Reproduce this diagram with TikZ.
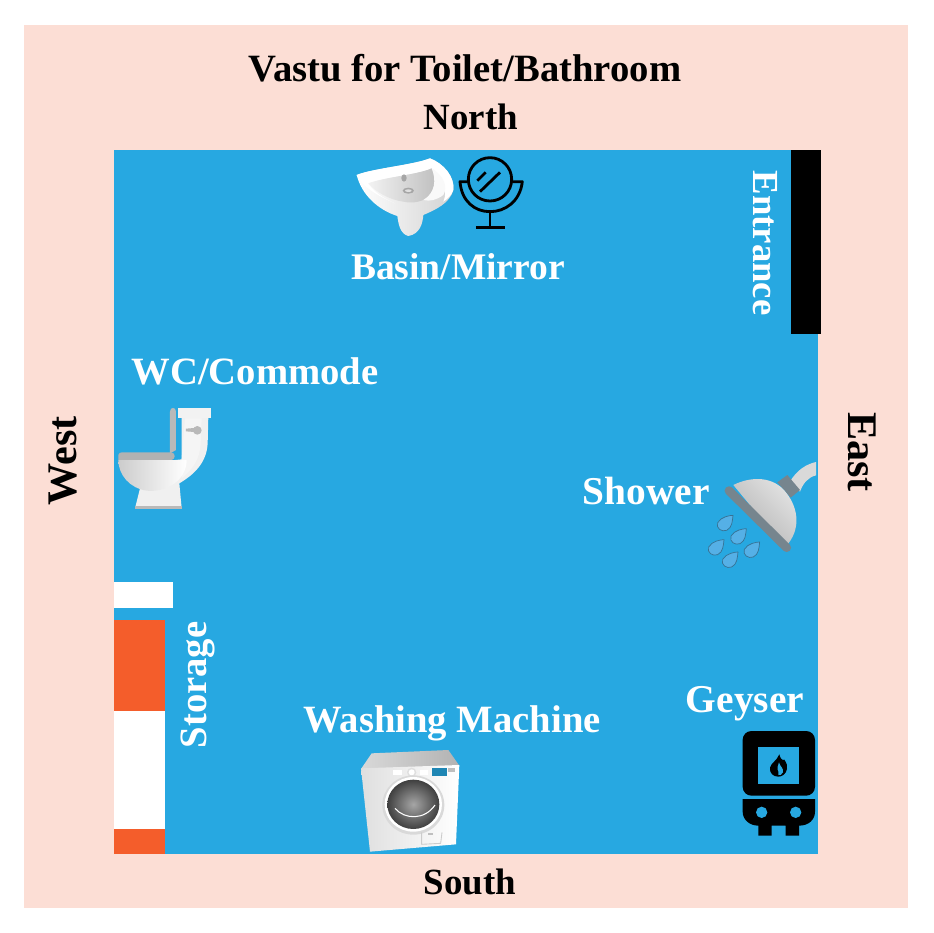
\documentclass[tikz,border=0pt]{standalone}
\usepackage{fontspec}
\setmainfont{Liberation Serif}
\usetikzlibrary{positioning, calc}
\definecolor{wallpink}{HTML}{FCDED5}
\definecolor{floorblue}{HTML}{27A8E1}
\definecolor{shelforange}{HTML}{F45D2B}
\definecolor{steeldark}{HTML}{76858E}
\definecolor{dropblue}{HTML}{55B0E6}

\begin{document}
\begin{tikzpicture}[x=0.02cm, y=-0.02cm, line join=round]

		% Define styles
		\tikzstyle{bigtext} = [font=\fontsize{22}{24}\selectfont\bfseries, text=black, inner sep=0pt]
		\tikzstyle{sidetext} = [font=\fontsize{21}{24}\selectfont\bfseries, text=black, inner sep=0pt]
		\tikzstyle{compasstext} = [font=\fontsize{24}{26}\selectfont\bfseries, text=black, inner sep=0pt]
		\tikzstyle{roomtext} = [font=\fontsize{22}{24}\selectfont\bfseries, text=white, inner sep=0pt]
		\tikzstyle{zoomed} = [x=0.02cm/3, y=-0.02cm/3]

		\useasboundingbox (0,0) rectangle (933,933);

		% Room
		\fill[white] (0,0) rectangle (933,933);
		\fill[wallpink] (24,25) rectangle (908,908);
		\fill[floorblue] (114,150) rectangle (818,854);
		\fill[black] (791,150) rectangle (821,334);

		% Storage
		\fill[white] (114,582) rectangle (173,608);
		\fill[shelforange] (114,620) rectangle (165,711);
		\fill[white] (114,711) rectangle (165,829);
		\fill[shelforange] (114,829) rectangle (165,854);

		% Labels
		\node[bigtext] (title) at (465,68) {Vastu for Toilet/Bathroom};
		\node[sidetext] (north) at (471,117) {North};
		\node[sidetext] (south) at (470,882) {South};
		\node[compasstext, rotate=90] (west) at (63,461) {West};
		\node[compasstext, rotate=-90] (east) at (862,452) {East};
		\node[roomtext, scale=0.97] (basin) at (458,267) {Basin/Mirror};
		\node[roomtext] (wc) at (255,371) {WC/Commode};
		\node[roomtext, scale=1.02] (shower) at (646,491) {Shower};
		\node[roomtext] (washer) at (452,723) {Washing Machine};
		\node[roomtext, scale=1.02] (geyser) at (745,704) {Geyser};
		\node[roomtext, rotate=90] (storage) at (198,685) {Storage};
		\node[roomtext, rotate=-90, scale=0.95] (entrance) at (765,243) {Entrance};

		% Basin
		\begin{scope}[shift={(340,140)}, zoomed]
			\shade[left color=white, right color=gray!35] (50,105) .. controls (100,85) and (220,75) .. (270,55) .. controls (310,70) and (345,110) .. (340,150) .. controls (330,190) and (285,210) .. (250,225) .. controls (248,250) and (240,282) .. (205,288) .. controls (180,282) and (175,250) .. (172,228) .. controls (115,210) and (65,165) .. (50,105) -- cycle;
			\fill[white] (50,105) .. controls (100,85) and (220,75) .. (270,55) .. controls (310,70) and (345,110) .. (340,150) .. controls (335,165) and (325,175) .. (310,185) .. controls (325,150) and (310,110) .. (275,85) .. controls (230,105) and (140,110) .. (85,130) .. controls (100,155) and (130,175) .. (165,190) .. controls (120,170) and (70,145) .. (50,105) -- cycle;
			\shade[left color=gray!10, right color=gray!50] (85,130) .. controls (140,110) and (230,105) .. (275,85) .. controls (290,120) and (285,160) .. (250,180) .. controls (230,188) and (210,190) .. (190,185) .. controls (150,180) and (105,155) .. (85,130) -- cycle;
			\fill[gray!5] (275,85) .. controls (310,105) and (325,140) .. (310,165) .. controls (290,180) and (270,185) .. (250,180) .. controls (285,160) and (290,120) .. (275,85) -- cycle;
			\fill[gray!70] (192,114) ellipse (8 and 11);
			\fill[gray!70] (205,152) ellipse (17 and 9);
			\fill[gray!25] (205,152) ellipse (10 and 4);
		\end{scope}

		% Mirror
		\begin{scope}[shift={(340,140)}, zoomed, line width=1.6pt]
			\draw (450,118) circle (65);
			\draw (383,125) -- (360,125) .. controls (365,185) and (405,215) .. (450,215) .. controls (495,215) and (540,185) .. (547,125) -- (517,125);
			\draw (450,215) -- (450,262);
			\draw (408,262) -- (495,262);
			\draw (412,122) -- (437,97);
			\draw (420,155) -- (480,97);
		\end{scope}

		% Commode
		\begin{scope}[shift={(110,400)}, zoomed]
			\fill[gray!12] (215,50) -- (295,50) -- (293,130) .. controls (290,190) and (250,225) .. (208,250) -- (215,325) -- (75,325) -- (90,265) -- (150,185) -- (215,178) -- cycle;
			\fill[white!92!gray] (225,55) -- (275,55) -- (272,130) .. controls (270,180) and (245,210) .. (215,235) -- (215,178) -- cycle;
			\fill[gray!10] (205,25) rectangle (302,55);
			\fill[gray!55] (180,35) .. controls (180,20) and (198,20) .. (198,35) -- (198,150) -- (180,160) -- cycle;
			\fill[gray!60] (25,165) .. controls (25,160) and (30,157) .. (40,157) -- (185,157) .. controls (198,160) and (196,178) .. (185,180) -- (25,180) -- cycle;
			\shade[left color=gray!40, right color=white] (25,180) -- (230,180) .. controls (230,240) and (170,278) .. (110,272) .. controls (60,265) and (25,225) .. (25,180) -- cycle;
			\fill[gray!55] (75,318) -- (215,318) -- (215,327) -- (75,327) -- cycle;
			\fill[gray!55] (228,86) -- (252,84) -- (252,96) -- (228,94) -- cycle;
			\fill[gray!55] (262,91) circle (13);
		\end{scope}

		% Shower
		\begin{scope}[shift={(690,450)}, zoomed]
			\fill[gray!30] (300,95) .. controls (320,60) and (350,42) .. (378,36) -- (378,76) .. controls (355,82) and (340,98) .. (330,125) -- cycle;
			\fill[steeldark] (262,97) -- (292,75) -- (330,120) -- (302,143) -- cycle;
			\shade[top color=gray!20, bottom color=gray!60, shading angle=-45] (130,105) .. controls (180,80) and (250,75) .. (290,130) .. controls (325,175) and (335,240) .. (285,292) -- cycle;
			\draw[steeldark, line width=5pt, line cap=round] (117,122) -- (290,293);
			\foreach \dropx/\dropy in {105/220, 145/260, 78/293, 185/300, 120/330}
				\filldraw[fill=dropblue, draw=dropblue!65!black, line width=0.4pt, shift={(\dropx,\dropy)}] (24,-24) .. controls (15,-24) and (-12,-20) .. (-22,-2) .. controls (-28,15) and (-10,27) .. (5,21) .. controls (22,13) and (22,-8) .. (24,-24) -- cycle;
		\end{scope}

		% Washing machine
		\begin{scope}[shift={(350,745)}, zoomed]
			\shade[left color=gray!30, right color=gray!60] (65,25) -- (295,15) -- (328,62) -- (33,72) -- cycle;
			\shade[left color=gray!25, right color=white] (33,70) -- (328,60) -- (318,298) -- (60,320) -- cycle;
			\fill[white] (130,75) rectangle (155,90);
			\fill[white] (210,75) rectangle (235,90);
			\fill[gray!25] (185,82) circle (14);
			\fill[white] (185,82) circle (9);
			\fill[floorblue!80!black] (245,70) rectangle (290,92);
			\fill[gray!50] (295,70) rectangle (315,80);
			\fill[gray!30] (190,180) ellipse (93 and 89);
			\fill[white] (190,178) ellipse (86 and 82);
			\shade[inner color=gray!70, outer color=black!75] (190,178) ellipse (78 and 74);
			\draw[white, line width=0.6pt] (135,190) .. controls (165,225) and (225,225) .. (255,180);
			\draw[gray!40, line width=0.5pt] (215,262) -- (215,298) -- (272,295) -- (276,262);
			\fill[gray!50] (235,265) rectangle (250,269);
		\end{scope}

		% Geyser
		\begin{scope}[shift={(730,725)}, zoomed]
			\fill[black, rounded corners=5pt] (38,18) rectangle (255,212);
			\fill[floorblue] (83,67) rectangle (207,177);
			\fill[black] (148,88) .. controls (150,100) and (158,108) .. (163,104) .. controls (170,115) and (173,122) .. (171,132) .. controls (168,148) and (155,155) .. (145,155) .. controls (130,155) and (118,145) .. (120,128) .. controls (122,115) and (140,108) .. (148,88) -- cycle;
			\fill[floorblue] (147,112) .. controls (150,125) and (162,130) .. (159,142) .. controls (156,150) and (148,152) .. (145,150) .. controls (150,140) and (140,138) .. (143,125) -- cycle;
			\fill[black] (38,222) -- (255,222) -- (255,260) .. controls (255,285) and (235,302) .. (207,302) -- (207,332) -- (167,332) -- (167,302) -- (125,302) -- (125,332) -- (85,332) -- (85,302) .. controls (60,302) and (38,285) .. (38,260) -- cycle;
			\fill[floorblue] (95,262) circle (17);
			\fill[floorblue] (197,262) circle (17);
		\end{scope}

\end{tikzpicture}
\end{document}
